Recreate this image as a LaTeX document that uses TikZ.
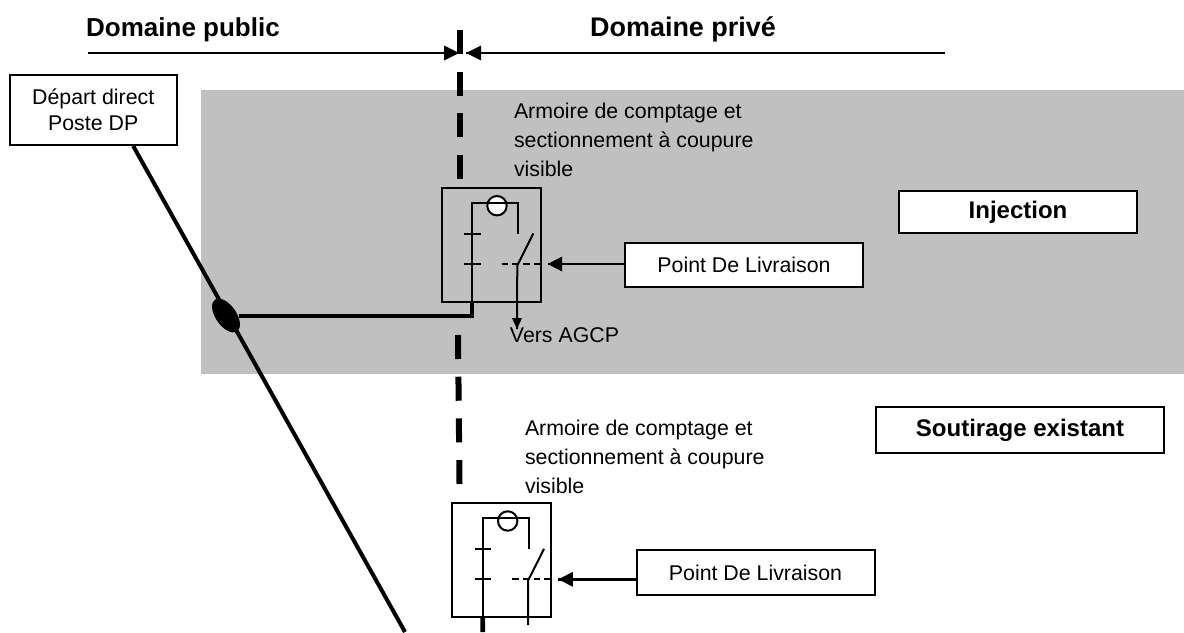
\documentclass[tikz,border=0pt]{standalone}
\usepackage{fontspec}
\setmainfont{Liberation Sans}
\usetikzlibrary{shapes.geometric}

\definecolor{zonegrey}{RGB}{192,192,192}

\tikzset{
  every picture/.style={line width=1.5pt},
  boxnode/.style={draw,fill=white,inner sep=0pt,align=center,font=\fontsize{16}{19.5}\selectfont},
  boldnode/.style={boxnode,font=\fontsize{18}{22}\selectfont\bfseries},
  headnode/.style={inner sep=0pt,font=\fontsize{19.5}{24}\selectfont\bfseries},
  textnode/.style={inner sep=0pt,anchor=north west,align=left,font=\fontsize{16}{21.75}\selectfont},
  limitline/.style={line width=4.5pt,dash pattern={on 18pt off 13.3pt}},
  thickline/.style={line width=3pt},
  pics/armoire/.style={code={
    \begin{scope}[yscale=-1]
    \draw (0,0) rectangle (99,114);
    \draw [fill=white] (55.3,17.7) circle [radius=9.7];
    \draw (30.3,114) -- (30.3,15) -- (76.3,15) -- (76.3,46);
    \draw (22.3,45.5) -- (39,45.5);
    \draw (22.3,76) -- (39,76);
    \draw (76.3,76) -- (91.6,45.5);
    \draw [dash pattern={on 5pt off 3pt}] (60,76) -- (99,76);
    \coordinate (-base) at (30.3,114);
    \coordinate (-switch) at (75.6,76);
    \coordinate (-tip) at (106,76);
    \end{scope}
  }}
}

\begin{document}
\begin{tikzpicture}[x=0.75pt,y=0.75pt,yscale=-1]
\useasboundingbox (0,0) rectangle (1184,632);

% grey zone
\fill [zonegrey] (201,90) rectangle (1184,373.5);

% limit between the two domains
\coordinate (limitA) at (460,30);
\coordinate (limitB) at (460,179);
\coordinate (limitC) at (458,335);
\coordinate (limitD) at (459.5,484);
\draw [limitline] (limitA) -- (limitB);
\draw [limitline] (limitC) -- (limitD);

% headers
\node (public) [headnode] at (183,29.5) {Domaine public};
\node (prive) [headnode,font=\fontsize{20.2}{24}\selectfont\bfseries] at (683,29.5) {Domaine privé};
\coordinate (publicStart) at (88,53);
\coordinate (publicTip) at (459,53);
\coordinate (priveEnd) at (945,53);
\coordinate (priveTip) at (466,53);
\draw (publicStart) -- (publicTip);
\draw (priveEnd) -- (priveTip);
\fill (publicTip) -- ++(-15,-7.5) -- ++(0,15) -- cycle;
\fill (priveTip) -- ++(15,-7.5) -- ++(0,15) -- cycle;

% boxes
\node (depart) [boxnode,minimum width=125.5pt,minimum height=52.5pt] at (93.2,110) {Départ direct\\Poste DP};
\node (injection) [boldnode,minimum width=178.5pt,minimum height=31.5pt] at (1018,212) {Injection};
\node (soutirage) [boldnode,minimum width=216pt,minimum height=34.5pt] at (1020,430) {Soutirage existant};
\node (livraisonA) [boxnode,minimum width=178.5pt,minimum height=33pt] at (744,265) {Point De Livraison};
\node (livraisonB) [boxnode,minimum width=178.5pt,minimum height=33.5pt] at (755.5,572.5) {Point De Livraison};

% cabinets
\pic (armA) at (441.7,188) {armoire};
\pic (armB) at (452.4,503.3) {armoire};
\node (txtA) [textnode] at (513,102) {Armoire de comptage et\\sectionnement à coupure\\visible};
\node (txtB) [textnode] at (524,419) {Armoire de comptage et\\sectionnement à coupure\\visible};

% feeder
\coordinate (feederEnd) at (405,632);
\draw [thickline] ([xshift=30pt]depart.south) -- (feederEnd);
\node (junction) [ellipse,fill=black,inner sep=0pt,minimum width=29pt,minimum height=15.5pt,rotate=-55] at (226,315.5) {};
\draw [thickline] (armA-base) |- (junction);
\coordinate (stubB) at (482.7,632);
\draw [line width=3.5pt] (armB-base) -- (stubB);

% delivery points
\draw [line width=1.9pt] (livraisonA.west |- armA-tip) -- (armA-tip);
\fill (armA-tip) -- ++(14.5,-7.5) -- ++(0,15) -- cycle;
\draw [line width=1.9pt] (livraisonB.west |- armB-tip) -- (armB-tip);
\fill (armB-tip) -- ++(14.5,-7.5) -- ++(0,15) -- cycle;

% outgoing lines
\coordinate (agcpTip) at (517,329);
\draw (armA-switch) -- (agcpTip);
\fill (agcpTip) -- ++(-5,-11) -- ++(10,0) -- cycle;
\node (agcp) [inner sep=0pt,font=\fontsize{16}{19}\selectfont] at (564.5,335) {Vers AGCP};
\coordinate (outB) at (528,625);
\draw (armB-switch) -- (outB);

\end{tikzpicture}
\end{document}
